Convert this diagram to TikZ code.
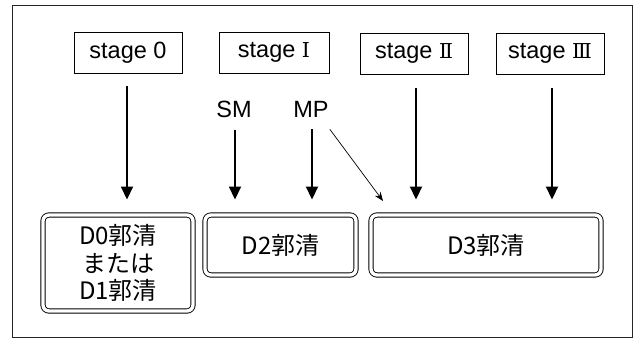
\documentclass[tikz,border=0pt]{standalone}
\usepackage{fontspec}
\setmainfont{Liberation Sans}
\newfontfamily\jp{Noto Sans CJK JP}
\newfontfamily\numfont{DejaVu Serif}
\usetikzlibrary{arrows.meta}
\begin{document}
\begin{tikzpicture}[x=1pt,y=-1pt,
  stagebox/.style={draw, line width=0.9pt, minimum width=108pt, minimum height=41pt, inner sep=0pt, font=\fontsize{23.5}{27}\selectfont},
  resbox/.style={draw, double, double distance=3.4pt, line width=0.9pt, rounded corners=6pt, inner sep=0pt, font=\jp\fontsize{24}{27.5}\selectfont, align=center},
  lab/.style={font=\fontsize{23.5}{27}\selectfont, inner sep=0pt},
  arr/.style={line width=1.8pt, -{Triangle[length=13pt,width=12pt]}},
  thinarr/.style={line width=0.7pt, -{Stealth[length=9pt,width=7pt]}}
]
\useasboundingbox (0,0) rectangle (636,342);
\draw[line width=0.8pt, draw=black!85] (12,5) rectangle (632,337);

\node[stagebox] (s0) at (128,52.5) {stage 0};
\node[stagebox, minimum width=110pt] (s1) at (274,52.5) {stage {\numfont\fontsize{20.5}{24}\selectfont Ⅰ}};
\node[stagebox] (s2) at (414,53.5) {stage {\numfont\fontsize{20.5}{24}\selectfont Ⅱ}};
\node[stagebox] (s3) at (550,53.5) {stage {\numfont\fontsize{20.5}{24}\selectfont Ⅲ}};

\node[lab] (sm) at (234,109) {SM};
\node[lab] (mp) at (311,109) {MP};

\node[resbox, minimum width=150pt, minimum height=96pt] (d0) at (118,263) {D0郭清\\または\\D1郭清};
\node[resbox, minimum width=151pt, minimum height=60pt] (d2) at (280.5,245) {D2郭清};
\node[resbox, minimum width=230pt, minimum height=60pt] (d3) at (486,245) {D3郭清};

\draw[arr, shorten <=13pt, shorten >=15pt] ([xshift=-1pt]s0.south) -- ([xshift=-1pt]s0.south |- d0.north);
\draw[arr, shorten <=12pt, shorten >=15pt] ([xshift=1pt]sm.south) -- ([xshift=1pt]sm.south |- d2.north);
\draw[arr, shorten <=12pt, shorten >=15pt] ([xshift=1pt]mp.south) -- ([xshift=1pt]mp.south |- d2.north);
\draw[arr, shorten <=14pt, shorten >=15pt] ([xshift=2pt]s2.south) -- ([xshift=2pt]s2.south |- d3.north);
\draw[arr, shorten <=14pt, shorten >=15pt] ([xshift=2pt]s3.south) -- ([xshift=2pt]s3.south |- d3.north);

\coordinate (mpend) at (383,201);
\draw[thinarr] ([xshift=1pt,yshift=-12pt]mp.south east) -- (mpend);
\end{tikzpicture}
\end{document}
